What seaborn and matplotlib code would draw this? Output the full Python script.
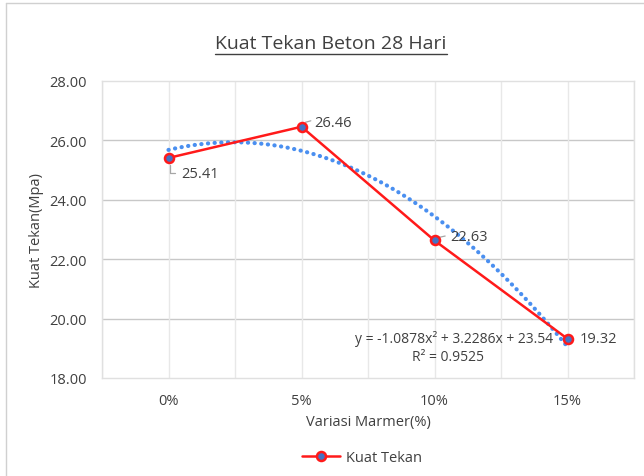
import numpy as np
import pandas as pd
import matplotlib.pyplot as plt
import seaborn as sns
from matplotlib.lines import Line2D

# data
variasi = ['0%', '5%', '10%', '15%']
kuat_tekan = [25.41, 26.46, 22.63, 19.32]
label_offsets = [(9, -11), (9, 3), (11, 3), (9, 0)]  # data label offsets in points
y_ticks = [18, 20, 22, 24, 26, 28]
persamaan = 'y = -1.0878x² + 3.2286x + 23.54'
r_kuadrat = 'R² = 0.9525'

sns.set_theme(style="white")
plt.rcParams['font.family'] = ['Open Sans', 'DejaVu Sans']
text_color = '#404040'

df = pd.DataFrame({'pos': np.arange(1, len(variasi) + 1), 'kuat': kuat_tekan})

fig = plt.figure(figsize=(6.44, 4.77), dpi=100)
ax = fig.add_axes([102 / 644, 1 - 379 / 477, 532 / 644, 297 / 477])

# polynomial (order 2) trendline, like Excel's
sns.regplot(data=df, x='pos', y='kuat', order=2, ci=None, scatter=False, ax=ax,
            line_kws=dict(color='#4a8ff0', lw=3.0, linestyle=(0, (0.05, 1.55)),
                          dash_capstyle='round', zorder=2))

sns.lineplot(data=df, x='pos', y='kuat', ax=ax, color='#ff1a1a', lw=1.8,
             marker='o', markersize=6.5, markerfacecolor='#4472c4',
             markeredgecolor='#ff1a1a', markeredgewidth=1.8, zorder=3)

# data labels with small leader lines
for i, (v, off) in enumerate(zip(kuat_tekan, label_offsets)):
    ax.annotate(f'{v:.2f}', xy=(i + 1, v), xytext=off, textcoords='offset points',
                fontsize=10.5, color=text_color, va='center', ha='left', zorder=5)
lead = dict(color='#a6a6a6', lw=0.9)
ax.plot([1.01, 1.01, 1.05], [25.41 - 0.25, 25.41 - 0.52, 25.41 - 0.52], **lead)
ax.plot([2.03, 2.07], [26.46 + 0.15, 26.46 + 0.2], **lead)
ax.plot([3.03, 3.08], [22.63 + 0.1, 22.63 + 0.15], **lead)

# trendline equation
ax.text(3.89, 19.33, persamaan, ha='right', va='center', fontsize=10, color=text_color)
ax.text(3.1, 18.72, r_kuadrat, ha='center', va='center', fontsize=10, color=text_color)

ax.set_xlim(0.5, 4.5)
ax.set_ylim(18, 28)
ax.set_xticks(df['pos'])
ax.set_xticklabels(variasi)
ax.set_xticks(np.arange(0.5, 4.6, 1.0), minor=True)
ax.set_yticks(y_ticks)
ax.set_yticklabels([f'{t:.2f}' for t in y_ticks])
ax.tick_params(axis='both', which='both', length=0, labelsize=10.5, labelcolor=text_color)
ax.tick_params(axis='x', pad=11)
ax.tick_params(axis='y', pad=11)

ax.grid(False)
for t in y_ticks[1:-1]:
    ax.axhline(t, color='#c8c8c8', lw=1.0, zorder=0)
ax.xaxis.grid(True, which='both', color='#e8e8e8', lw=1.0)
ax.set_axisbelow(True)
for s in ax.spines.values():
    s.set_color('#e0e0e0')
    s.set_linewidth(1.0)

ax.set_xlabel('Variasi Marmer(%)', fontsize=10.5, color=text_color, labelpad=4)
ax.set_ylabel('Kuat Tekan(Mpa)', fontsize=10.5, color=text_color, labelpad=4)

title = fig.text(331 / 644, 1 - 44 / 477, 'Kuat Tekan Beton 28 Hari', ha='center',
                 va='center', fontsize=14, color=text_color)
fig.canvas.draw()
bb = title.get_window_extent().transformed(fig.transFigure.inverted())
fig.add_artist(Line2D([bb.x0, bb.x1], [bb.y0 - 0.004, bb.y0 - 0.004],
                      transform=fig.transFigure, color=text_color, lw=1.0))

handle = Line2D([], [], color='#ff1a1a', lw=1.8, marker='o', markersize=6.5,
                markerfacecolor='#4472c4', markeredgecolor='#ff1a1a',
                markeredgewidth=1.8)
fig.legend([handle], ['Kuat Tekan'], loc='center', frameon=False,
           bbox_to_anchor=(362 / 644, 1 - 459 / 477), fontsize=10.5,
           labelcolor=text_color, handlelength=2.6, handletextpad=0.4)

# outer chart border (top and left visible)
fig.add_artist(Line2D([6 / 644, 6 / 644], [0, 1 - 4 / 477], transform=fig.transFigure,
                      color='#d0d0d0', lw=1.0))
fig.add_artist(Line2D([6 / 644, 1], [1 - 4 / 477, 1 - 4 / 477], transform=fig.transFigure,
                      color='#d0d0d0', lw=1.0))

fig.savefig('out.png', dpi=100)
